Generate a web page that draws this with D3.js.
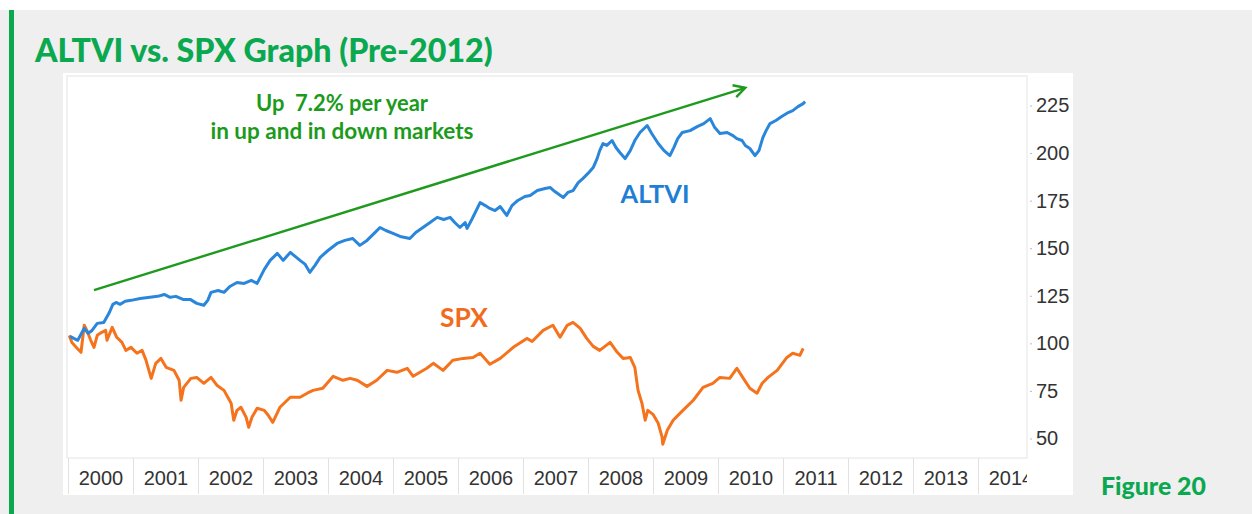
<!DOCTYPE html>
<html>
<head>
<meta charset="utf-8">
<script src="https://cdn.jsdelivr.net/npm/d3@7"></script>
<style>
html, body { margin: 0; padding: 0; background: #efefef; }
svg { display: block; }
</style>
</head>
<body>
<svg id="chart" width="1252" height="514"></svg>
<script>
// tick labels
var years = [2000, 2001, 2002, 2003, 2004, 2005, 2006, 2007, 2008, 2009, 2010, 2011, 2012, 2013, 2014];
var yTicks = [50, 75, 100, 125, 150, 175, 200, 225];

// [year, value]
var altvi = [
  [2000.03,103.7],[2000.09,102.6],[2000.15,101.6],[2000.25,107.9],[2000.31,105.3],[2000.37,106.8],
  [2000.45,110.5],[2000.55,111.0],[2000.63,115.8],[2000.69,120.5],[2000.74,121.5],[2000.80,120.5],
  [2000.88,122.1],[2000.97,122.6],[2001.11,123.6],[2001.26,124.2],[2001.38,124.7],[2001.48,125.7],
  [2001.57,124.2],[2001.66,124.7],[2001.77,123.1],[2001.88,123.1],[2001.98,121.0],[2002.09,120.0],
  [2002.15,122.6],[2002.20,126.8],[2002.31,127.8],[2002.40,126.8],[2002.49,129.9],[2002.60,132.0],
  [2002.71,131.5],[2002.82,133.1],[2002.91,131.5],[2003.02,138.9],[2003.11,143.6],[2003.22,147.3],
  [2003.31,143.6],[2003.42,147.8],[2003.57,143.6],[2003.65,141.5],[2003.72,137.3],[2003.80,141.0],
  [2003.88,145.2],[2004.00,148.8],[2004.14,152.5],[2004.26,154.1],[2004.38,155.1],[2004.49,151.5],
  [2004.60,154.1],[2004.71,157.8],[2004.80,160.9],[2004.89,159.3],[2005.00,157.8],[2005.11,156.2],
  [2005.26,155.1],[2005.35,158.3],[2005.46,160.9],[2005.57,163.5],[2005.68,166.2],[2005.78,165.1],
  [2005.88,166.2],[2005.95,163.5],[2006.03,160.9],[2006.11,163.5],[2006.14,160.4],[2006.22,165.6],
  [2006.34,174.0],[2006.42,172.4],[2006.49,170.9],[2006.57,169.8],[2006.65,171.9],[2006.75,167.2],
  [2006.83,172.4],[2006.92,175.1],[2007.03,177.2],[2007.11,177.7],[2007.22,180.3],[2007.34,181.4],
  [2007.42,181.9],[2007.49,179.8],[2007.62,176.7],[2007.69,179.3],[2007.77,180.3],[2007.85,184.5],
  [2007.92,186.6],[2008.00,189.3],[2008.08,192.4],[2008.14,197.1],[2008.18,201.3],[2008.23,205.0],
  [2008.29,204.0],[2008.37,206.6],[2008.43,202.9],[2008.49,200.3],[2008.57,197.1],[2008.65,201.3],
  [2008.72,206.6],[2008.80,210.8],[2008.91,214.5],[2008.98,210.3],[2009.08,205.0],[2009.17,201.3],
  [2009.26,198.7],[2009.32,202.9],[2009.38,207.6],[2009.45,210.8],[2009.57,211.8],[2009.68,213.9],
  [2009.78,215.5],[2009.88,218.1],[2009.95,213.4],[2010.03,210.3],[2010.14,210.8],[2010.23,209.2],
  [2010.29,207.6],[2010.37,206.6],[2010.42,204.0],[2010.49,202.4],[2010.57,198.7],[2010.63,201.3],
  [2010.69,208.1],[2010.74,211.8],[2010.80,215.5],[2010.89,217.1],[2010.98,219.2],[2011.08,221.3],
  [2011.15,222.3],[2011.23,224.4],[2011.31,226.0],[2011.34,227.0]
];

var spx = [
  [2000.02,104.2],[2000.06,100.5],[2000.14,97.4],[2000.20,95.3],[2000.25,109.5],[2000.29,106.8],
  [2000.35,101.6],[2000.40,97.9],[2000.45,104.2],[2000.52,105.8],[2000.58,106.8],[2000.60,101.6],
  [2000.68,108.4],[2000.75,103.2],[2000.83,100.5],[2000.89,96.3],[2000.97,97.9],[2001.06,94.8],
  [2001.14,96.3],[2001.20,91.1],[2001.28,81.6],[2001.35,89.5],[2001.43,92.1],[2001.51,87.4],
  [2001.63,85.8],[2001.71,80.6],[2001.74,70.1],[2001.78,76.9],[2001.89,81.6],[2001.98,82.1],
  [2002.09,79.0],[2002.20,82.1],[2002.29,78.0],[2002.40,75.3],[2002.51,68.5],[2002.55,59.6],
  [2002.60,64.8],[2002.66,66.4],[2002.74,61.2],[2002.78,55.9],[2002.83,61.2],[2002.91,65.9],
  [2003.02,64.8],[2003.08,62.2],[2003.15,58.5],[2003.26,66.4],[2003.42,71.7],[2003.57,71.7],
  [2003.68,73.8],[2003.77,75.3],[2003.92,76.4],[2004.08,82.7],[2004.23,80.6],[2004.34,81.6],
  [2004.45,80.6],[2004.60,77.4],[2004.75,80.6],[2004.91,85.8],[2005.06,84.8],[2005.22,86.9],
  [2005.31,82.7],[2005.52,86.9],[2005.62,89.5],[2005.77,85.8],[2005.92,91.1],[2006.08,92.1],
  [2006.23,92.6],[2006.34,94.8],[2006.49,89.0],[2006.65,92.1],[2006.85,97.9],[2007.06,102.6],
  [2007.14,101.0],[2007.31,106.8],[2007.46,109.5],[2007.57,103.2],[2007.68,109.5],[2007.77,111.0],
  [2007.88,107.9],[2007.98,102.6],[2008.08,98.4],[2008.18,96.3],[2008.34,100.5],[2008.45,95.3],
  [2008.54,92.1],[2008.65,92.6],[2008.72,87.4],[2008.77,75.3],[2008.83,68.5],[2008.88,59.6],
  [2008.92,64.8],[2009.00,62.7],[2009.08,58.0],[2009.14,50.7],[2009.15,47.0],[2009.22,54.3],
  [2009.31,59.6],[2009.46,64.8],[2009.62,70.1],[2009.77,76.9],[2009.92,79.0],[2010.03,82.1],
  [2010.18,81.6],[2010.29,86.9],[2010.38,82.1],[2010.49,76.4],[2010.60,73.8],[2010.68,79.0],
  [2010.77,82.1],[2010.91,85.8],[2011.06,92.6],[2011.15,94.8],[2011.26,93.7],[2011.31,97.4]
];

// trend arrow, start and end
var trend = [[2000.40, 128.0], [2010.42, 234.3]];

var svg = d3.select("#chart");

// page frame
svg.append("rect").attr("x", 0).attr("y", 0).attr("width", 1252).attr("height", 10).attr("fill", "#fff");
svg.append("rect").attr("x", 9).attr("y", 10).attr("width", 5).attr("height", 504).attr("fill", "#0aa84f");

// fit font size to a width
function fit(sel, w) {
    var fs = parseFloat(sel.attr("font-size"));
    var len = sel.node().getComputedTextLength();
    sel.attr("font-size", (fs * w / len).toFixed(2));
}

var title = svg.append("text")
    .attr("x", 35).attr("y", 62)
    .attr("font-family", "Lato, 'Open Sans', sans-serif")
    .attr("font-weight", 900)
    .attr("font-size", 28)
    .attr("fill", "#0aa84f")
    .text("ALTVI vs. SPX Graph (Pre-2012)");
fit(title, 458);

var fig = svg.append("text")
    .attr("x", 1101).attr("y", 495)
    .attr("font-family", "Lato, 'Open Sans', sans-serif")
    .attr("font-weight", 900)
    .attr("font-size", 22)
    .attr("fill", "#0aa84f")
    .text("Figure 20");
fit(fig, 105);

// chart image
svg.append("rect").attr("x", 63).attr("y", 73).attr("width", 1010).attr("height", 422).attr("fill", "#fff");

var plot = { left: 67, top: 76, right: 1027, bottom: 458 };

var x = d3.scaleLinear().domain([2000, 2015]).range([68, 68 + 15 * 65]);
var y = d3.scaleLinear().domain([50, 225]).range([438.5, 105.5]);

svg.append("defs").append("clipPath").attr("id", "clip")
  .append("rect").attr("x", plot.left).attr("y", plot.top)
    .attr("width", plot.right - plot.left).attr("height", 494 - plot.top);

svg.append("rect")
    .attr("x", plot.left).attr("y", plot.top)
    .attr("width", plot.right - plot.left).attr("height", plot.bottom - plot.top)
    .attr("fill", "none").attr("stroke", "#e4e4e4").attr("stroke-width", 1);

// x axis: year cells
var gx = svg.append("g").attr("clip-path", "url(#clip)");

gx.append("g")
    .attr("transform", "translate(0," + plot.bottom + ")")
    .call(d3.axisBottom(x).tickValues(years.concat([2015])).tickSize(36).tickFormat(""))
    .call(function(g){ g.select(".domain").remove(); })
    .selectAll("line").attr("stroke", "#e2e2e2");

gx.append("g")
    .attr("transform", "translate(0," + (plot.bottom + 27) + ")")
    .call(d3.axisBottom(x).tickValues(years.map(function(d){ return d + 0.5; }))
        .tickSize(0).tickFormat(function(d){ return Math.floor(d); }))
    .call(function(g){
        g.select(".domain").remove();
        g.selectAll("text")
            .attr("y", 0).attr("dy", 0)
            .attr("font-family", "'Liberation Sans', Arial, sans-serif")
            .attr("font-size", 20)
            .attr("fill", "#333");
    });

// y axis on the right
svg.append("g")
    .attr("transform", "translate(" + (plot.right + 3) + ",0)")
    .call(d3.axisRight(y).tickValues(yTicks).tickSize(2).tickPadding(4))
    .call(function(g){
        g.select(".domain").remove();
        g.selectAll("line").attr("stroke", "#bbb");
        g.selectAll("text")
            .attr("font-family", "'Liberation Sans', Arial, sans-serif")
            .attr("font-size", 20)
            .attr("fill", "#333");
    });

// series
var line = d3.line()
    .x(function(d){ return x(d[0]); })
    .y(function(d){ return y(d[1]); });

var lines = svg.append("g").attr("clip-path", "url(#clip)");

lines.append("path").datum(spx)
    .attr("d", line).attr("fill", "none")
    .attr("stroke", "#f5731c").attr("stroke-width", 3)
    .attr("stroke-linejoin", "round");

lines.append("path").datum(altvi)
    .attr("d", line).attr("fill", "none")
    .attr("stroke", "#2a86da").attr("stroke-width", 3)
    .attr("stroke-linejoin", "round");

// trend arrow
var p0 = [x(trend[0][0]), y(trend[0][1])];
var p1 = [x(trend[1][0]), y(trend[1][1])];
var ang = Math.atan2(p1[1] - p0[1], p1[0] - p0[0]);
var head = 13, spread = 0.5;

lines.append("line")
    .attr("x1", p0[0]).attr("y1", p0[1]).attr("x2", p1[0]).attr("y2", p1[1])
    .attr("stroke", "#1f9a1f").attr("stroke-width", 2.4);

lines.append("path")
    .attr("d", "M" + (p1[0] - head * Math.cos(ang - spread)) + "," + (p1[1] - head * Math.sin(ang - spread)) +
        "L" + p1[0] + "," + p1[1] +
        "L" + (p1[0] - head * Math.cos(ang + spread)) + "," + (p1[1] - head * Math.sin(ang + spread)))
    .attr("fill", "none").attr("stroke", "#1f9a1f").attr("stroke-width", 2.4)
    .attr("stroke-linejoin", "miter");

// annotations
var ann = svg.append("g")
    .attr("font-family", "Lato, 'Open Sans', sans-serif")
    .attr("font-weight", 700)
    .attr("text-anchor", "middle");

var t1 = ann.append("text").attr("x", 342).attr("y", 111)
    .attr("font-size", 18).attr("fill", "#1c9a1c").attr("xml:space", "preserve")
    .text("Up  7.2% per year");
fit(t1, 172);

var t2 = ann.append("text").attr("x", 342).attr("y", 139)
    .attr("font-size", 18).attr("fill", "#1c9a1c")
    .text("in up and in down markets");
fit(t2, 263);

var lA = ann.append("text").attr("x", 655).attr("y", 203)
    .attr("font-size", 24).attr("fill", "#1f7fd4")
    .text("ALTVI");
fit(lA, 69);

var lS = ann.append("text").attr("x", 464).attr("y", 327)
    .attr("font-size", 24).attr("fill", "#f26a1b")
    .text("SPX");
fit(lS, 48);
</script>
</body>
</html>
